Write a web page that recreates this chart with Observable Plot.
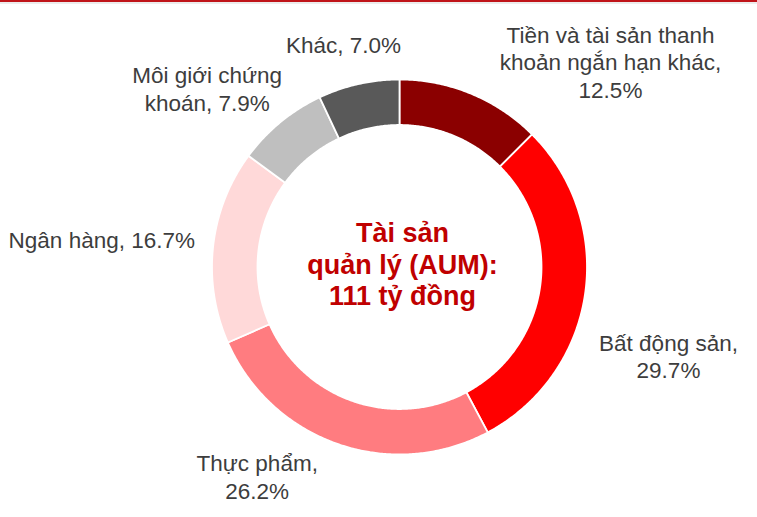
<!DOCTYPE html>
<html>
<head>
<meta charset="utf-8">
<script src="https://cdn.jsdelivr.net/npm/d3@7"></script>
<script src="https://cdn.jsdelivr.net/npm/@observablehq/plot@0.6"></script>
<style>
  html, body { margin: 0; padding: 0; background: #fff; }
  #topbar { height: 2px; background: #c0141a; }
  #topline { height: 2px; background: #ececec; }
</style>
</head>
<body>
<div id="topbar"></div>
<div id="topline"></div>
<div id="chart"></div>
<script>
// ---- data ----
const categories = [
  "Tiền và tài sản thanh khoản ngắn hạn khác",
  "Bất động sản",
  "Thực phẩm",
  "Ngân hàng",
  "Môi giới chứng khoán",
  "Khác"
];
const values = [12.5, 29.7, 26.2, 16.7, 7.9, 7.0];
const labelTexts = [
  "Tiền và tài sản thanh\nkhoản ngắn hạn khác,\n12.5%",
  "Bất động sản,\n29.7%",
  "Thực phẩm,\n26.2%",
  "Ngân hàng, 16.7%",
  "Môi giới chứng\nkhoán, 7.9%",
  "Khác, 7.0%"
];
const centerText = "Tài sản\nquản lý (AUM):\n111 tỷ đồng";
const colors = ["#8b0000", "#ff0000", "#ff7c80", "#ffd9d9", "#bfbfbf", "#595959"];

// ---- layout (pixel units relative to donut centre) ----
const W = 757, H = 513;
const cx = 399, cy = 262.5;
const rOuter = 187.5, rInner = 142;
const labelOffsets = [
  [211, -205.5], [269, 88.5], [-142.3, 209], [-297.7, -27.5], [-192.3, -179], [-56, -223]
];

// ---- build arcs from the data ----
const pie = d3.pie().sort(null).value(d => d.value);
const slices = pie(categories.map((c, i) => ({cat: c, value: values[i]})));
const ringPts = [];
for (const s of slices) {
  const steps = Math.max(2, Math.ceil((s.endAngle - s.startAngle) / (Math.PI / 360)));
  for (let k = 0; k <= steps; k++) {
    const a = s.startAngle + (s.endAngle - s.startAngle) * k / steps;
    ringPts.push({cat: s.data.cat, x: rOuter * Math.sin(a), y: -rOuter * Math.cos(a)});
  }
  for (let k = steps; k >= 0; k--) {
    const a = s.startAngle + (s.endAngle - s.startAngle) * k / steps;
    ringPts.push({cat: s.data.cat, x: rInner * Math.sin(a), y: -rInner * Math.cos(a)});
  }
}
const labels = categories.map((c, i) => ({cat: c, text: labelTexts[i], x: labelOffsets[i][0], y: labelOffsets[i][1]}));

const chart = Plot.plot({
  width: W,
  height: H,
  margin: 0,
  x: {type: "linear", domain: [-cx, W - cx], range: [0, W], axis: null},
  y: {type: "linear", domain: [-cy, H - cy], range: [0, H], axis: null},
  color: {domain: categories, range: colors},
  style: {background: "#fff"},
  marks: [
    Plot.line(ringPts, {
      x: "x", y: "y", z: "cat", fill: "cat",
      stroke: "#ffffff", strokeWidth: 1.8, curve: "linear-closed"
    }),
    Plot.text(labels, {
      x: "x", y: "y", text: "text",
      fontSize: 22.5, lineHeight: 1.22, fill: "#3d3d3d",
      fontFamily: "Liberation Sans, Arial, sans-serif",
      textAnchor: "middle"
    }),
    Plot.text([centerText], {
      x: () => 3, y: () => -3.5, text: d => d,
      fontSize: 27, fontWeight: "bold", lineHeight: 1.17, fill: "#c00000",
      fontFamily: "Liberation Sans, Arial, sans-serif",
      textAnchor: "middle"
    })
  ]
});
document.getElementById("chart").appendChild(chart);
</script>
</body>
</html>
